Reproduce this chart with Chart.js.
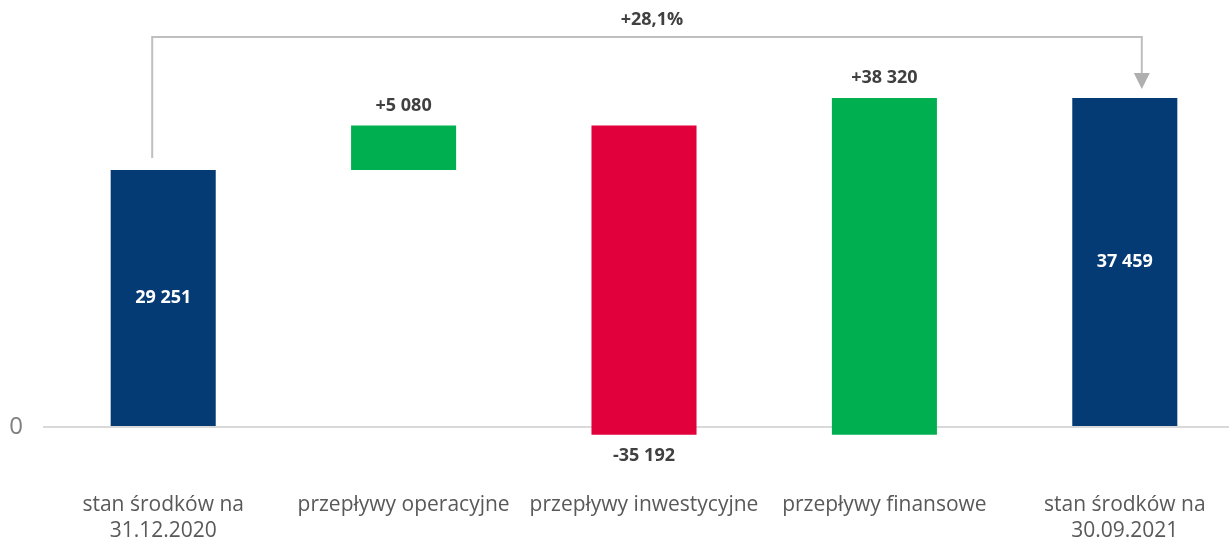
<!DOCTYPE html>
<html>
<head>
<meta charset="utf-8">
<script src="https://cdn.jsdelivr.net/npm/chart.js@4"></script>
<style>
  html, body { margin: 0; padding: 0; background: #fff; overflow: hidden; }
  #wrap { width: 1245px; height: 542px; position: relative; }
</style>
</head>
<body>
<div id="wrap"><canvas id="chart"></canvas></div>
<script>
// Data
const categories = [
    ['stan środków na', '31.12.2020'],
    'przepływy operacyjne',
    'przepływy inwestycyjne',
    'przepływy finansowe',
    ['stan środków na', '30.09.2021']
];
const values = [29251, 5080, -35192, 38320, 37459];
const kinds = ['total', 'delta', 'delta', 'delta', 'total'];
const changeLabel = '+28,1%';

const NAVY = '#053B75';
const GREEN = '#00B050';
const RED = '#E1003C';

// Build floating bars [start, end]
let running = 0;
const ranges = values.map((v, i) => {
    if (kinds[i] === 'total') {
        running = v;
        return [0, v];
    }
    const start = running;
    running += v;
    return [start, running];
});
const colors = values.map((v, i) => kinds[i] === 'total' ? NAVY : (v < 0 ? RED : GREEN));

function fmt(v, signed) {
    const s = Math.abs(v).toString().replace(/\B(?=(\d{3})+(?!\d))/g, ' ');
    if (v < 0) return '-' + s;
    return (signed ? '+' : '') + s;
}

// Value labels + bracket arrow
const annotations = {
    id: 'annotations',
    afterDatasetsDraw(chart) {
        const ctx = chart.ctx;
        const meta = chart.getDatasetMeta(0);
        ctx.save();
        ctx.font = 'bold 18px "Open Sans"';
        ctx.textAlign = 'center';
        ctx.textBaseline = 'middle';
        meta.data.forEach((bar, i) => {
            const v = values[i];
            const top = Math.min(bar.y, bar.base);
            const bottom = Math.max(bar.y, bar.base);
            if (kinds[i] === 'total') {
                ctx.fillStyle = '#ffffff';
                ctx.fillText(fmt(v, false), bar.x, (top + bottom) / 2);
            } else if (v >= 0) {
                ctx.fillStyle = '#404040';
                ctx.fillText(fmt(v, true), bar.x, top - 20);
            } else {
                ctx.fillStyle = '#404040';
                ctx.fillText(fmt(v, true), bar.x, bottom + 21);
            }
        });

        // bracket from first to last total
        const first = meta.data[0];
        const last = meta.data[meta.data.length - 1];
        const x1 = first.x - 11;
        const x2 = last.x + 17;
        const yTop = 37;
        const y1 = first.y - 12;
        const tipY = last.y - 9;
        ctx.strokeStyle = '#BFBFBF';
        ctx.lineWidth = 2;
        ctx.beginPath();
        ctx.moveTo(x1, y1);
        ctx.lineTo(x1, yTop);
        ctx.lineTo(x2, yTop);
        ctx.lineTo(x2, tipY - 14);
        ctx.stroke();
        ctx.fillStyle = '#AFAFAF';
        ctx.beginPath();
        ctx.moveTo(x2 - 8, tipY - 16);
        ctx.lineTo(x2 + 8, tipY - 16);
        ctx.lineTo(x2, tipY);
        ctx.closePath();
        ctx.fill();

        ctx.fillStyle = '#404040';
        ctx.fillText(changeLabel, (chart.chartArea.left + chart.chartArea.right) / 2 + 8, 20);
        ctx.restore();
    }
};

new Chart(document.getElementById('chart'), {
    type: 'bar',
    data: {
        labels: categories,
        datasets: [{
            data: ranges,
            backgroundColor: colors,
            borderWidth: 0,
            barPercentage: 1,
            categoryPercentage: 0.437
        }]
    },
    options: {
        responsive: true,
        maintainAspectRatio: false,
        animation: false,
        layout: { padding: { top: 58, left: 0, right: 0, bottom: 0 } },
        plugins: {
            legend: { display: false },
            tooltip: { enabled: false }
        },
        scales: {
            x: {
                grid: { display: false },
                border: { display: false },
                afterFit: s => { s.height = 71; },
                ticks: {
                    color: '#595959',
                    font: { family: '"Open Sans"', size: 21, lineHeight: 1.24 },
                    padding: 13,
                    maxRotation: 0,
                    autoSkip: false
                }
            },
            y: {
                min: -5000,
                max: 42000,
                z: 1,
                afterBuildTicks: s => { s.ticks = [{ value: 0 }]; },
                afterFit: s => { s.width = 43; },
                grid: { color: '#D9D9D9', lineWidth: 2, drawTicks: false },
                border: { display: false },
                ticks: {
                    color: '#7F7F7F',
                    font: { family: '"Open Sans"', size: 24 },
                    padding: 20
                }
            }
        }
    },
    plugins: [annotations]
});
</script>
</body>
</html>
